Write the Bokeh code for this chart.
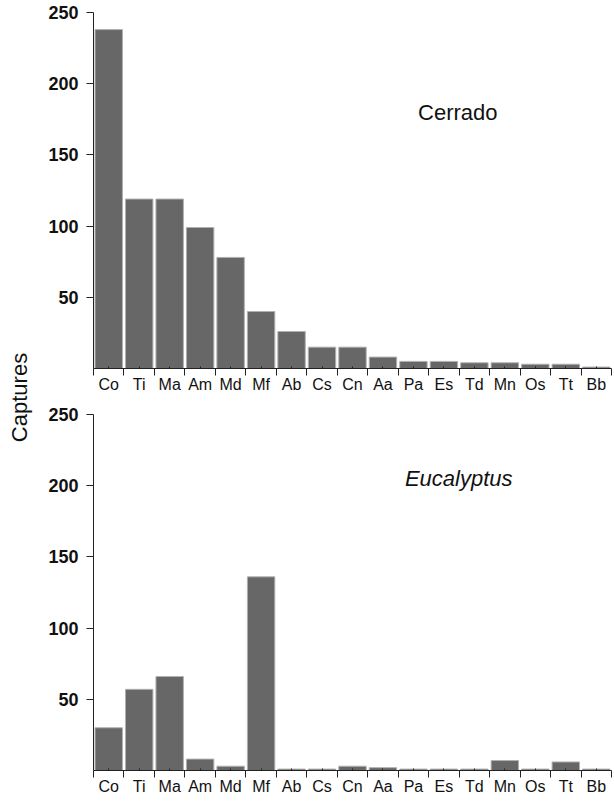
import math
from bokeh.plotting import figure
from bokeh.models import Range1d, FixedTicker, CustomJSTickFormatter, Label
from bokeh.layouts import row, column
from bokeh.embed import file_html
from bokeh.resources import INLINE

species = ["Co", "Ti", "Ma", "Am", "Md", "Mf", "Ab", "Cs", "Cn",
           "Aa", "Pa", "Es", "Td", "Mn", "Os", "Tt", "Bb"]
cerrado = [238, 119, 119, 99, 78, 40, 26, 15, 15, 8, 5, 5, 4, 4, 3, 3, 1]
eucalyptus = [30, 57, 66, 8, 3, 136, 1, 1, 3, 2, 1, 1, 1, 7, 1, 6, 1]
y_ticks = [50, 100, 150, 200, 250]
panel_titles = ["Cerrado", "Eucalyptus"]
y_title = "Captures"

FONT = "Liberation Sans"
AXIS_COLOR = "#222222"
BAR_FILL = "#676767"
BAR_LINE = "#b0b0b0"

n = len(species)
centers = [i + 0.5 for i in range(n)]
bounds = [i for i in range(n + 1)]


def make_panel(values, title, title_x, title_y, italic, height):
    p = figure(width=579, height=height, output_backend="svg", toolbar_location=None,
               x_range=Range1d(0, n), y_range=Range1d(0, 250),
               min_border_left=58, min_border_right=3,
               min_border_top=12, min_border_bottom=height - 12 - 356)
    p.outline_line_color = None
    p.xgrid.visible = False
    p.ygrid.visible = False
    p.background_fill_color = "white"
    p.border_fill_color = "white"

    p.vbar(x=centers, top=values, width=0.9, fill_color=BAR_FILL,
           line_color=BAR_LINE, line_width=1)

    xa = p.xaxis[0]
    xa.ticker = FixedTicker(ticks=centers, minor_ticks=bounds)
    xa.formatter = CustomJSTickFormatter(args=dict(labels=species),
                                         code="return labels[Math.round(tick - 0.5)];")
    xa.major_tick_out = 0
    xa.major_tick_in = 2
    xa.minor_tick_out = 7
    xa.minor_tick_in = 0
    xa.axis_line_color = AXIS_COLOR
    xa.major_tick_line_color = AXIS_COLOR
    xa.minor_tick_line_color = AXIS_COLOR
    xa.major_label_text_font = FONT
    xa.major_label_text_font_size = "16px"
    xa.major_label_text_color = "#111111"
    xa.major_label_standoff = 0

    ya = p.yaxis[0]
    ya.ticker = FixedTicker(ticks=y_ticks, minor_ticks=[])
    ya.major_tick_out = 7
    ya.major_tick_in = 0
    ya.minor_tick_out = 0
    ya.minor_tick_in = 0
    ya.axis_line_color = AXIS_COLOR
    ya.major_tick_line_color = AXIS_COLOR
    ya.major_label_text_font = FONT
    ya.major_label_text_font_size = "18px"
    ya.major_label_text_font_style = "bold"
    ya.major_label_text_color = "#111111"
    ya.major_label_standoff = 8

    lab = Label(x=title_x, y=title_y, text=title, text_font=FONT,
                text_font_size="22px", text_color="#111111",
                text_font_style="italic" if italic else "normal",
                text_baseline="alphabetic", text_align="left")
    p.add_layout(lab)
    return p


top = make_panel(cerrado, panel_titles[0], 10.65, 180, False, 402)
bottom = make_panel(eucalyptus, panel_titles[1], 10.22, 205, True, 400)

side = figure(width=35, height=802, output_backend="svg", toolbar_location=None,
              x_range=Range1d(0, 35), y_range=Range1d(0, 802),
              min_border=0, x_axis_location=None, y_axis_location=None)
side.outline_line_color = None
side.xgrid.visible = False
side.ygrid.visible = False
side.add_layout(Label(x=19, y=802 - 397, text=y_title, angle=math.pi / 2,
                      text_font=FONT, text_font_size="22px", text_color="#111111",
                      text_align="center", text_baseline="middle"))

layout = row(side, column(top, bottom, spacing=0), spacing=0)

open("out.html", "w").write(file_html(layout, INLINE))
